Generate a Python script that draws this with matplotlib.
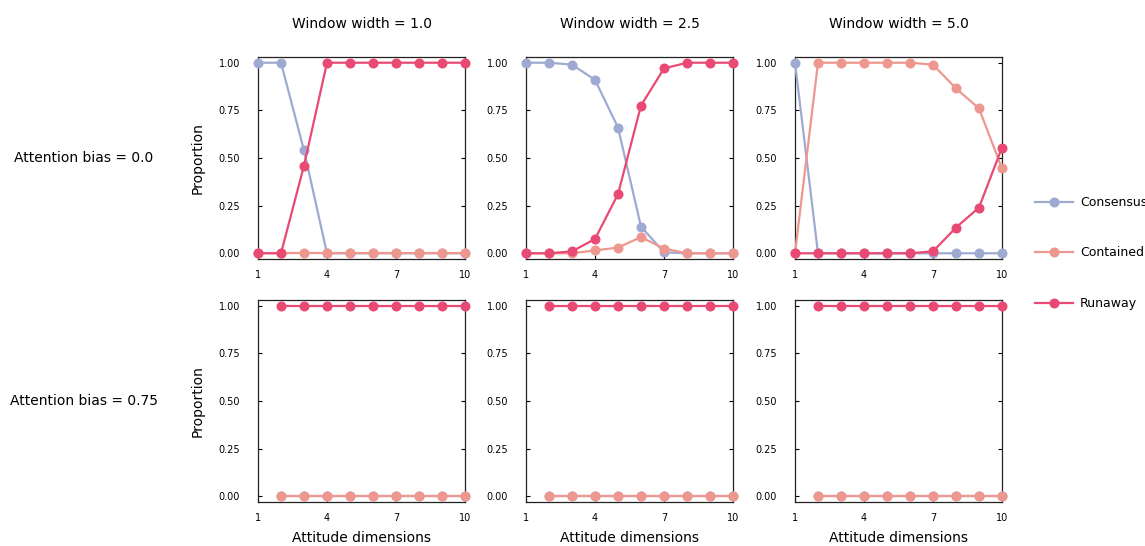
import numpy as np
import matplotlib
matplotlib.use("Agg")
import matplotlib.pyplot as plt

dims = [1, 2, 3, 4, 5, 6, 7, 8, 9, 10]
window_widths = ["1.0", "2.5", "5.0"]
attention_biases = ["0.0", "0.75"]
series_names = ["Consensus", "Contained", "Runaway"]
series_colors = ["#9faad2", "#ee978f", "#e84a73"]

nan = np.nan
# Attention bias = 0.0
consensus_b0_w1 = [1.0, 1.0, 0.54, 0, 0, 0, 0, 0, 0, 0]
contained_b0_w1 = [0, 0, 0, 0, 0, 0, 0, 0, 0, 0]
runaway_b0_w1 = [0, 0, 0.46, 1.0, 1.0, 1.0, 1.0, 1.0, 1.0, 1.0]

consensus_b0_w25 = [1.0, 1.0, 0.99, 0.91, 0.66, 0.14, 0.005, 0, 0, 0]
contained_b0_w25 = [0, 0, 0.0, 0.015, 0.03, 0.085, 0.025, 0, 0, 0]
runaway_b0_w25 = [0, 0, 0.01, 0.075, 0.31, 0.775, 0.97, 1.0, 1.0, 1.0]

consensus_b0_w5 = [1.0, 0, 0, 0, 0, 0, 0, 0, 0, 0]
contained_b0_w5 = [0, 1.0, 1.0, 1.0, 1.0, 1.0, 0.99, 0.865, 0.76, 0.445]
runaway_b0_w5 = [0, 0, 0, 0, 0, 0, 0.01, 0.135, 0.24, 0.555]

# Attention bias = 0.75
consensus_b75 = [nan, 0, 0, 0, 0, 0, 0, 0, 0, 0]
contained_b75 = [nan, 0, 0, 0, 0, 0, 0, 0, 0, 0]
runaway_b75 = [nan, 1.0, 1.0, 1.0, 1.0, 1.0, 1.0, 1.0, 1.0, 1.0]

data = {
    (0, 0): [consensus_b0_w1, contained_b0_w1, runaway_b0_w1],
    (0, 1): [consensus_b0_w25, contained_b0_w25, runaway_b0_w25],
    (0, 2): [consensus_b0_w5, contained_b0_w5, runaway_b0_w5],
    (1, 0): [consensus_b75, contained_b75, runaway_b75],
    (1, 1): [consensus_b75, contained_b75, runaway_b75],
    (1, 2): [consensus_b75, contained_b75, runaway_b75],
}

W, H = 1145, 546
fig = plt.figure(figsize=(W / 100, H / 100), dpi=100)

lefts = [258, 526, 795]
axw = 207
tops = [57, 300]
axh = 202

axes = {}
for r in range(2):
    for c in range(3):
        ax = fig.add_axes([lefts[c] / W, 1 - (tops[r] + axh) / H, axw / W, axh / H])
        axes[(r, c)] = ax
        for name, col, vals in zip(series_names, series_colors, data[(r, c)]):
            ax.plot(dims, vals, color=col, lw=1.6, marker="o", ms=6.2,
                    label=name, clip_on=False, zorder=3)
        ax.set_xlim(1, 10)
        ax.set_ylim(-0.03, 1.03)
        ax.set_xticks([1, 4, 7, 10])
        ax.set_yticks([0, 0.25, 0.5, 0.75, 1.0])
        ax.set_yticklabels(["0.00", "0.25", "0.50", "0.75", "1.00"])
        ax.tick_params(axis="y", direction="in", length=3, pad=13, labelsize=7,
                       right=True, left=True, width=0.8)
        ax.tick_params(axis="x", direction="in", length=3, pad=8, labelsize=7,
                       bottom=True, width=0.8)
        for s in ax.spines.values():
            s.set_linewidth(0.9)
            s.set_color("#222222")
        if c == 0:
            ax.set_ylabel("Proportion", fontsize=10, labelpad=10)
        if r == 0:
            ax.set_title(f"Window width = {window_widths[c]}", fontsize=10, pad=21)
        if r == 1:
            ax.set_xlabel("Attitude dimensions", fontsize=10, labelpad=6)

for r in range(2):
    yc = 1 - (tops[r] + axh / 2) / H
    fig.text(84 / W, yc, f"Attention bias = {attention_biases[r]}", fontsize=10,
             ha="center", va="center")

handles, labels = axes[(0, 0)].get_legend_handles_labels()
fig.legend(handles, labels, loc="center left", bbox_to_anchor=(1030 / W, 1 - 253 / H),
           frameon=False, fontsize=9, labelspacing=3.0, handlelength=3.0,
           handletextpad=0.6, borderaxespad=0)

fig.savefig("out.png", dpi=100)
